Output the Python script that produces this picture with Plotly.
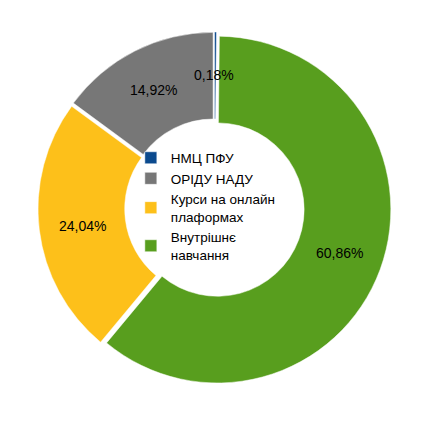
import plotly.graph_objects as go
import math

labels = ["НМЦ ПФУ", "ОРІДУ НАДУ", "Курси на онлайн<br>плаформах", "Внутрішнє<br>навчання"]
values = [0.18, 14.92, 24.04, 60.86]
colors = ["#0B4A8E", "#777777", "#FDC01A", "#589E1E"]

W, H = 433, 423
ml, mr, mt, mb = 30, 50, 24, 46
pw, ph = W - ml - mr, H - mt - mb
pull = 0.018
hole = 0.5

fig = go.Figure(go.Pie(
    labels=labels, values=values, sort=False, direction="counterclockwise",
    rotation=0, hole=hole, pull=[pull] * len(values),
    marker=dict(colors=colors, line=dict(color="white", width=0.5)),
    textinfo="none", hoverinfo="label+percent",
))

# data labels at slice mid-angle, mid-ring radius
R = min(pw, ph) / (2 + 2 * pull)
rr = (pull + (1 + hole) / 2) * R
total = sum(values)
cum = 0
anns = []
for v in values:
    theta = math.radians(-(cum + v / 2) / total * 360)
    cum += v
    dx = rr * math.sin(theta)
    dy = rr * math.cos(theta)
    anns.append(dict(
        x=0.5 + dx / pw, y=0.5 + dy / ph, xref="paper", yref="paper",
        text=f"{v:.2f}".replace(".", ",") + "%", showarrow=False,
        font=dict(family="Liberation Sans", size=14, color="#000000"),
        xanchor="center", yanchor="middle",
    ))

fig.update_layout(
    width=W, height=H, margin=dict(l=ml, r=mr, t=mt, b=mb),
    paper_bgcolor="white", plot_bgcolor="white",
    font=dict(family="Liberation Sans", size=13, color="#000000"),
    showlegend=True,
    legend=dict(x=0.263, y=0.687, xanchor="left", yanchor="top",
                bgcolor="rgba(0,0,0,0)", font=dict(size=13.5)),
    annotations=anns,
)
fig.write_html("out.html")
